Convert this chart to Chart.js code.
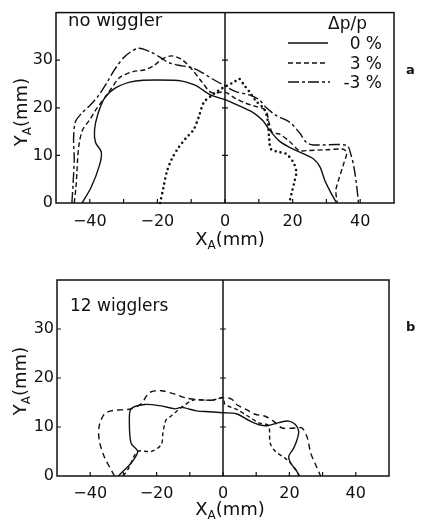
<!DOCTYPE html>
<html>
<head>
<meta charset="utf-8">
<script src="https://cdn.jsdelivr.net/npm/chart.js@4.4.0/dist/chart.umd.min.js"></script>
<style>
  body { margin: 0; background: #fff; }
  #wrap { position: relative; width: 425px; height: 527px; font-family: "DejaVu Sans", sans-serif; color: #111; overflow: hidden; }
  canvas { position: absolute; left: 0; }
  #topChart { top: 0; }
  #botChart { top: 262px; }
  .lbl { position: absolute; white-space: nowrap; font-size: 18px; line-height: 1; }
  .lbl sub { font-size: 12px; vertical-align: -4px; }
  .ytitle { transform: translate(-50%, -50%) rotate(-90deg); }
  .xtitle { transform: translate(-50%, -50%); }
  .panel { font-weight: bold; font-size: 13px; }
  .leg { position: absolute; right: 43px; font-size: 17px; line-height: 1; transform: translateY(-50%); }
  svg { position: absolute; left: 0; top: 0; }
</style>
</head>
<body>
<div id="wrap">
  <canvas id="topChart" width="425" height="262"></canvas>
  <canvas id="botChart" width="425" height="265"></canvas>

  <div class="lbl" style="left:68px; top:11px;">no wiggler</div>
  <div class="lbl" style="left:70px; top:297px; font-size:17px;">12 wigglers</div>

  <div class="lbl ytitle" style="left:22px; top:112px;">Y<sub>A</sub>(mm)</div>
  <div class="lbl ytitle" style="left:21px; top:381px;">Y<sub>A</sub>(mm)</div>
  <div class="lbl xtitle" style="left:230px; top:240px;">X<sub>A</sub>(mm)</div>
  <div class="lbl xtitle" style="left:230px; top:510px;">X<sub>A</sub>(mm)</div>

  <div class="lbl panel" style="left:406px; top:63px;">a</div>
  <div class="lbl panel" style="left:406px; top:320px;">b</div>

  <div class="lbl" style="left:328px; top:15px; font-size:17px;">Δp/p</div>
  <svg width="425" height="100">
    <line x1="288" y1="43" x2="328" y2="43" stroke="#111" stroke-width="1.5"/>
    <line x1="288" y1="63" x2="328" y2="63" stroke="#111" stroke-width="1.5" stroke-dasharray="5 3"/>
    <line x1="288" y1="82" x2="330" y2="82" stroke="#111" stroke-width="1.5" stroke-dasharray="11 3 3 3"/>
  </svg>
  <div class="leg" style="top:43px;">0 %</div>
  <div class="leg" style="top:63px;">3 %</div>
  <div class="leg" style="top:82px;">-3 %</div>
</div>

<script>
// axis ticks
const xTickValues = [-40, -20, 0, 20, 40];
const xMinorTicks = [-40, -30, -20, -10, 0, 10, 20, 30, 40];
const yTickValues = [0, 10, 20, 30];

// (a) no wiggler, dp/p = 0 %
const topSolidX = [-42.3, -39.6, -37.1, -36.6, -38.3, -38.6, -37.6, -35.6, -32.6, -28.2, -24.2, -15.2, -12.7, -8.7, -4.3, 0, 4.2, 8.1, 11.1, 13.1, 16.1, 19.1, 22.1, 26.1, 28.1, 29.6, 31.0, 33.0];
const topSolidY = [0, 3.3, 8.0, 10.7, 12.7, 15.4, 18.7, 22.1, 24.1, 25.4, 25.8, 25.8, 25.6, 24.7, 22.7, 21.7, 20.4, 19.1, 17.4, 15.4, 13.0, 11.7, 10.7, 9.3, 7.6, 4.6, 2.6, 0];
// dp/p = 3 %
const topDashX = [-44.6, -44.1, -43.8, -43.6, -43.1, -42.1, -40.1, -38.1, -35.6, -33.6, -31.1, -27.2, -23.7, -21.2, -18.2, -15.7, -12.7, -9.8, -6.8, -4.0, 0, 3, 6, 9, 12, 13, 14, 16, 19, 22, 24, 30, 35, 36, 35, 33.5, 32.8, 33.2];
const topDashY = [0, 3.3, 6.6, 9.3, 12.7, 15.4, 17.4, 19.7, 22.1, 24.1, 26.4, 27.6, 28.0, 28.8, 30.4, 30.9, 30.1, 28.1, 25.4, 23.2, 23.3, 22.0, 21.0, 20.3, 19.5, 17.0, 14.8, 14.5, 13.0, 11.0, 11.0, 11.2, 11.3, 10.5, 8.0, 4.6, 2.6, 0];
// dp/p = -3 %
const topDashDotX = [-45.3, -44.9, -44.6, -44.8, -44.3, -42.6, -40.1, -37.6, -35.1, -32.6, -29.6, -25.7, -22.2, -18.7, -16.7, -12.7, -9.8, -6.8, -3.8, -0.3, 3.2, 7.2, 10.1, 12.1, 15.1, 19.1, 22.1, 24.1, 26.1, 36.0, 37.2, 38.2, 39.0, 39.5];
const topDashDotY = [0, 4.6, 9.3, 13.3, 17.0, 18.7, 20.4, 22.4, 25.1, 28.1, 30.8, 32.5, 31.8, 30.4, 29.5, 28.8, 28.4, 27.4, 26.1, 24.7, 23.4, 22.7, 21.7, 20.1, 18.4, 17.0, 14.7, 12.7, 12.2, 12.1, 10.3, 7.3, 3.3, 0];
// dotted curve (no legend entry)
const topDotX = [-19.2, -18.2, -17.2, -15.7, -13.7, -11.7, -9.3, -7.8, -6.3, -4.3, -1.8, 0.7, 2.7, 4.2, 5.7, 7.2, 9.2, 11.6, 12.6, 13.1, 13.6, 16.1, 18.1, 20.1, 21.1, 20.6, 19.9, 19.0];
const topDotY = [0, 3.3, 6.6, 9.3, 11.7, 13.5, 15.4, 18.0, 21.1, 22.4, 23.7, 24.7, 25.4, 26.1, 24.7, 23.4, 21.4, 19.7, 17.4, 13.3, 11.3, 10.7, 10.3, 8.7, 6.6, 4.6, 2.6, 0];

// (b) 12 wigglers
const botSolidX = [-31.5, -30.2, -27.7, -25.7, -27.7, -28.2, -27.7, -23.6, -18.6, -14.5, -12.5, -8, -4, 0, 4, 8.2, 11.2, 13.7, 16.8, 19.8, 21.8, 22.8, 22.3, 21.3, 19.8, 20.5, 22, 23];
const botSolidY = [0, 0.9, 2.6, 5.0, 6.7, 10.9, 13.7, 14.6, 14.3, 13.7, 14.0, 13.3, 13.1, 12.9, 12.7, 11.2, 10.4, 10.3, 10.9, 11.2, 10.5, 9.1, 7.4, 5.7, 4.0, 2.5, 1.2, 0];
const botDashX = [-32.7, -35.8, -37.3, -37.3, -35.8, -33.7, -30.7, -27.7, -24.5, -23.1, -21.6, -18.6, -14.5, -11, -6, -3, 0, 2.6, 4.1, 7.2, 9.7, 12.7, 15.2, 17.8, 21.8, 23.8, 25.4, 26.4, 27.9, 29.4];
const botDashY = [0, 4.0, 7.4, 10.2, 12.6, 13.3, 13.5, 13.7, 14.8, 16.3, 17.2, 17.4, 16.7, 15.9, 15.5, 15.5, 16.0, 15.7, 14.6, 13.5, 12.6, 12.2, 11.2, 9.8, 9.8, 9.8, 7.8, 4.7, 2.3, 0];
const botDashDotX = [-30, -28.5, -25.7, -21.6, -18.6, -18.1, -17.6, -17.1, -16.1, -14.5, -12.5, -9, -6, -3, 0, 0.6, 4.1, 8, 11, 13.7, 14.2, 15.8, 18.8, 20.5, 22, 23];
const botDashDotY = [0, 1.5, 5.0, 5.0, 6.4, 8.8, 10.5, 11.5, 12.0, 12.9, 14.0, 15.5, 15.5, 15.5, 16.0, 14.6, 13.6, 12.0, 10.8, 10.3, 6.7, 5.0, 3.6, 2.5, 1.2, 0];

const INK = '#111';

function pts(xs, ys) {
    return xs.map((x, i) => ({ x: x, y: ys[i] }));
}

function curve(xs, ys, dash, width, cap) {
    return {
        data: pts(xs, ys),
        showLine: true,
        borderColor: INK,
        borderWidth: width || 1.4,
        borderDash: dash,
        borderCapStyle: cap || 'butt',
        pointRadius: 0,
        tension: 0.3,
        clip: false
    };
}

// frame, inward tick marks and the vertical x = 0 line
const framePlugin = {
    id: 'frame',
    afterDatasetsDraw(chart) {
        const ctx = chart.ctx;
        const a = chart.chartArea;
        const xs = chart.scales.x, ys = chart.scales.y;
        ctx.save();
        ctx.strokeStyle = INK;
        ctx.lineWidth = 1.5;
        ctx.setLineDash([]);
        ctx.strokeRect(a.left, a.top, a.right - a.left, a.bottom - a.top);
        const x0 = xs.getPixelForValue(0);
        ctx.beginPath();
        ctx.moveTo(x0, a.top);
        ctx.lineTo(x0, a.bottom);
        ctx.stroke();
        ctx.lineWidth = 1.2;
        ctx.beginPath();
        xMinorTicks.forEach(v => {
            const px = xs.getPixelForValue(v);
            ctx.moveTo(px, a.bottom);
            ctx.lineTo(px, a.bottom - 4);
        });
        yTickValues.forEach(v => {
            if (v === 0) return;
            const py = ys.getPixelForValue(v);
            ctx.moveTo(a.left, py);
            ctx.lineTo(a.left + 4, py);
            ctx.moveTo(x0 - 3, py);
            ctx.lineTo(x0 + 3, py);
        });
        ctx.stroke();
        ctx.restore();
    }
};

function makeChart(id, datasets, pad, yW, xH, xPad) {
    return new Chart(document.getElementById(id), {
        type: 'scatter',
        data: { datasets: datasets },
        options: {
            responsive: false,
            animation: false,
            layout: { padding: pad, autoPadding: false },
            plugins: { legend: { display: false }, tooltip: { enabled: false } },
            scales: {
                x: {
                    type: 'linear', min: -50, max: 50,
                    grid: { display: false, drawTicks: false },
                    border: { display: false },
                    afterBuildTicks: s => { s.ticks = xTickValues.map(v => ({ value: v })); },
                    afterFit: s => { s.height = xH; },
                    ticks: {
                        color: INK, padding: xPad, maxRotation: 0,
                        font: { family: 'DejaVu Sans', size: 16 },
                        callback: v => v < 0 ? '\u2212' + Math.abs(v) : String(v)
                    }
                },
                y: {
                    type: 'linear', min: 0, max: 40,
                    grid: { display: false, drawTicks: false },
                    border: { display: false },
                    afterBuildTicks: s => { s.ticks = yTickValues.map(v => ({ value: v })); },
                    afterFit: s => { s.width = yW; },
                    ticks: {
                        color: INK, padding: 3,
                        font: { family: 'DejaVu Sans', size: 16 }
                    }
                }
            }
        },
        plugins: [framePlugin]
    });
}

makeChart('topChart', [
    curve(topSolidX, topSolidY, []),
    curve(topDashX, topDashY, [5, 3]),
    curve(topDashDotX, topDashDotY, [11, 3, 3, 3]),
    curve(topDotX, topDotY, [0, 5], 2.6, 'round')
], { top: 5, right: 31, left: 0, bottom: 0 }, 56, 59, 9);

makeChart('botChart', [
    curve(botSolidX, botSolidY, []),
    curve(botDashX, botDashY, [6, 4]),
    curve(botDashDotX, botDashDotY, [4, 3])
], { top: 18, right: 36, left: 0, bottom: 0 }, 57, 51, 8);
</script>
</body>
</html>
